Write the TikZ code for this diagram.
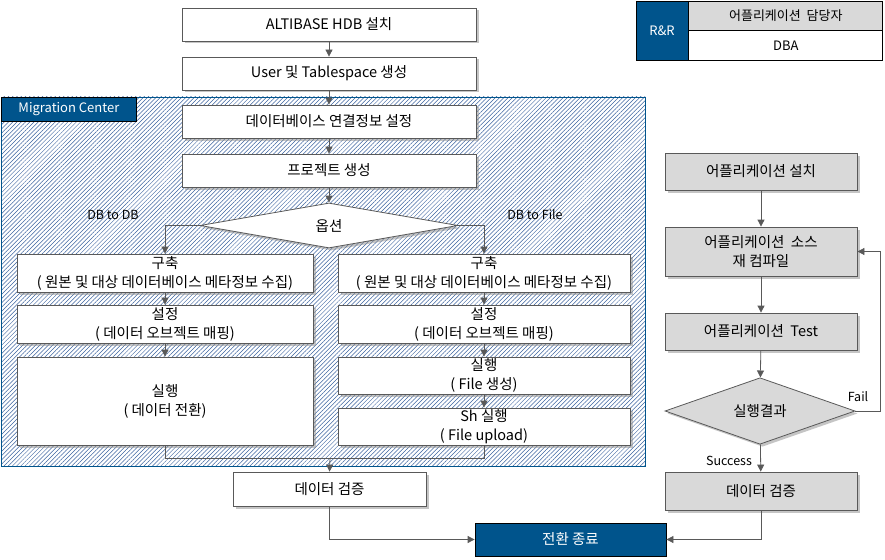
\documentclass[tikz,border=0pt]{standalone}
\usepackage{fontspec}
\setmainfont{Noto Sans CJK KR}
\usetikzlibrary{shapes.geometric, arrows.meta, shadows, patterns.meta}
\definecolor{linegray}{RGB}{89,89,89}
\definecolor{darkblue}{RGB}{0,84,140}
\definecolor{hatchblue}{RGB}{60,100,160}
\definecolor{boxgray}{RGB}{217,217,217}
\tikzstyle{boxshadow} = [drop shadow={shadow xshift=2.5pt, shadow yshift=-2.5pt, fill=black!45, opacity=.5}]
\tikzstyle{process} = [rectangle, minimum width=294pt, minimum height=33pt, inner sep=1pt, text centered, align=center, draw=linegray, line width=0.8pt, fill=white, boxshadow]
\tikzstyle{half} = [process, minimum height=38pt]
\tikzstyle{app} = [process, minimum width=192pt, minimum height=37pt, fill=boxgray]
\tikzstyle{decision} = [diamond, inner sep=0pt, text centered, draw=linegray, line width=0.8pt, fill=white, boxshadow]
\tikzstyle{endbox} = [rectangle, minimum width=191pt, minimum height=33pt, text centered, draw=black, line width=0.8pt, fill=darkblue, text=white]
\tikzstyle{cell} = [rectangle, draw=black, line width=0.8pt, inner sep=0pt, text centered]
\tikzstyle{arrow} = [draw=linegray, line width=0.8pt, -{Triangle[length=7pt,width=7pt]}]
\tikzstyle{line} = [draw=linegray, line width=0.8pt]
\tikzstyle{tag} = [font=\fontsize{12.5}{14}\selectfont, inner sep=1pt]

\begin{document}
\begin{tikzpicture}[x=1pt, y=-1pt, font=\fontsize{14.5}{19}\selectfont]
        \useasboundingbox (0,0) rectangle (885,559);

        % migration center area
        \draw[draw=darkblue, line width=0.8pt, pattern={Lines[angle=45, distance=3pt, line width=0.5pt]}, pattern color=hatchblue] (1,97) rectangle (645,466);
        \node (mclabel) [rectangle, anchor=north west, minimum width=135pt, minimum height=24pt, draw=black, line width=0.8pt, fill=darkblue, text=white, inner sep=0pt, font=\fontsize{13}{15}\selectfont] at (1,97) {Migration Center};

        % R&R table
        \node (rr) [cell, minimum width=52pt, minimum height=59pt, fill=darkblue, text=white, font=\fontsize{13}{15}\selectfont] at (662,30.5) {R\&R};
        \node (owner) [cell, minimum width=194pt, minimum height=29pt, fill=boxgray, anchor=north west, font=\fontsize{13}{15}\selectfont] at (rr.north east) {어플리케이션~~담당자};
        \node (dba) [cell, minimum width=194pt, minimum height=30pt, fill=white, anchor=north west, font=\fontsize{13}{15}\selectfont] at (owner.south west) {DBA};

        % left flow
        \node (install) [process] at (329,24.5) {ALTIBASE HDB 설치};
        \node (user) [process] at (329,73.5) {User 및 Tablespace 생성};
        \node (dbconn) [process] at (329,121.5) {데이터베이스 연결정보 설정};
        \node (project) [process] at (329,170.5) {프로젝트 생성};
        \node (option) [decision, minimum width=258pt, minimum height=45pt] at (329,225.5) {옵션};
        \node (buildL) [half, minimum width=296pt] at (165,273) {구축\\( 원본 및 대상 데이터베이스 메타정보 수집)};
        \node (setL) [half, minimum width=296pt] at (165,324) {설정\\( 데이터 오브젝트 매핑)};
        \node (runL) [half, minimum width=296pt, minimum height=88pt] at (165,401) {실행\\( 데이터 전환)};
        \node (buildR) [half, minimum width=292pt] at (484,273) {구축\\( 원본 및 대상 데이터베이스 메타정보 수집)};
        \node (setR) [half, minimum width=292pt] at (484,324) {설정\\( 데이터 오브젝트 매핑)};
        \node (fileR) [half, minimum width=292pt, minimum height=37pt] at (484,375.5) {실행\\( File 생성)};
        \node (shR) [half, minimum width=292pt, minimum height=37pt] at (484,426.5) {Sh 실행\\( File upload)};
        \node (verifyL) [process, minimum width=193pt, minimum height=34pt] at (329.5,489) {데이터 검증};
        \node (finish) [endbox] at (570.5,539.5) {전환 종료};
        \node (dbtodb) [tag] at (113,215) {DB to DB};
        \node (dbtofile) [tag] at (535,215) {DB to File};
        \coordinate (merge) at (330,458);

        % right flow
        \node (appinstall) [app] at (761,171.5) {어플리케이션 설치};
        \node (recompile) [app, minimum height=49pt] at (761,251.5) {어플리케이션~~소스\\재 컴파일};
        \node (apptest) [app] at (761,331.5) {어플리케이션~~Test};
        \node (result) [decision, fill=boxgray, minimum width=190pt, minimum height=48pt] at (760,411) {실행결과};
        \node (verifyR) [app, minimum height=38pt] at (761,491) {데이터 검증};
        \coordinate (failturn) at (880,411);
        \node (fail) [tag] at (858,397) {Fail};
        \node (success) [tag] at (729,461) {Success};

        \draw [arrow] (install) -- (user);
        \draw [arrow] (user) -- (dbconn);
        \draw [arrow] (dbconn) -- (project);
        \draw [arrow] (project) -- (option);
        \draw [arrow] (option.west) -| (buildL.north);
        \draw [arrow] (option.east) -| (buildR.north);
        \draw [arrow] (buildL) -- (setL);
        \draw [arrow] (setL) -- (runL);
        \draw [arrow] (buildR) -- (setR);
        \draw [arrow] (setR) -- (fileR);
        \draw [arrow] (fileR) -- (shR);
        \draw [line] (runL.south) |- (merge);
        \draw [line] (shR.south) |- (merge);
        \draw [arrow] (merge) -- (verifyL.north);
        \draw [arrow] (verifyL.south) |- (finish.west);

        \draw [arrow] (appinstall) -- (recompile);
        \draw [arrow] (recompile) -- (apptest);
        \draw [arrow] (apptest) -- (result);
        \draw [arrow] (result) -- (verifyR);
        \draw [arrow] (result.east) -- (failturn) |- (recompile.east);
        \draw [arrow] (verifyR.south) |- (finish.east);

      \end{tikzpicture}
\end{document}
